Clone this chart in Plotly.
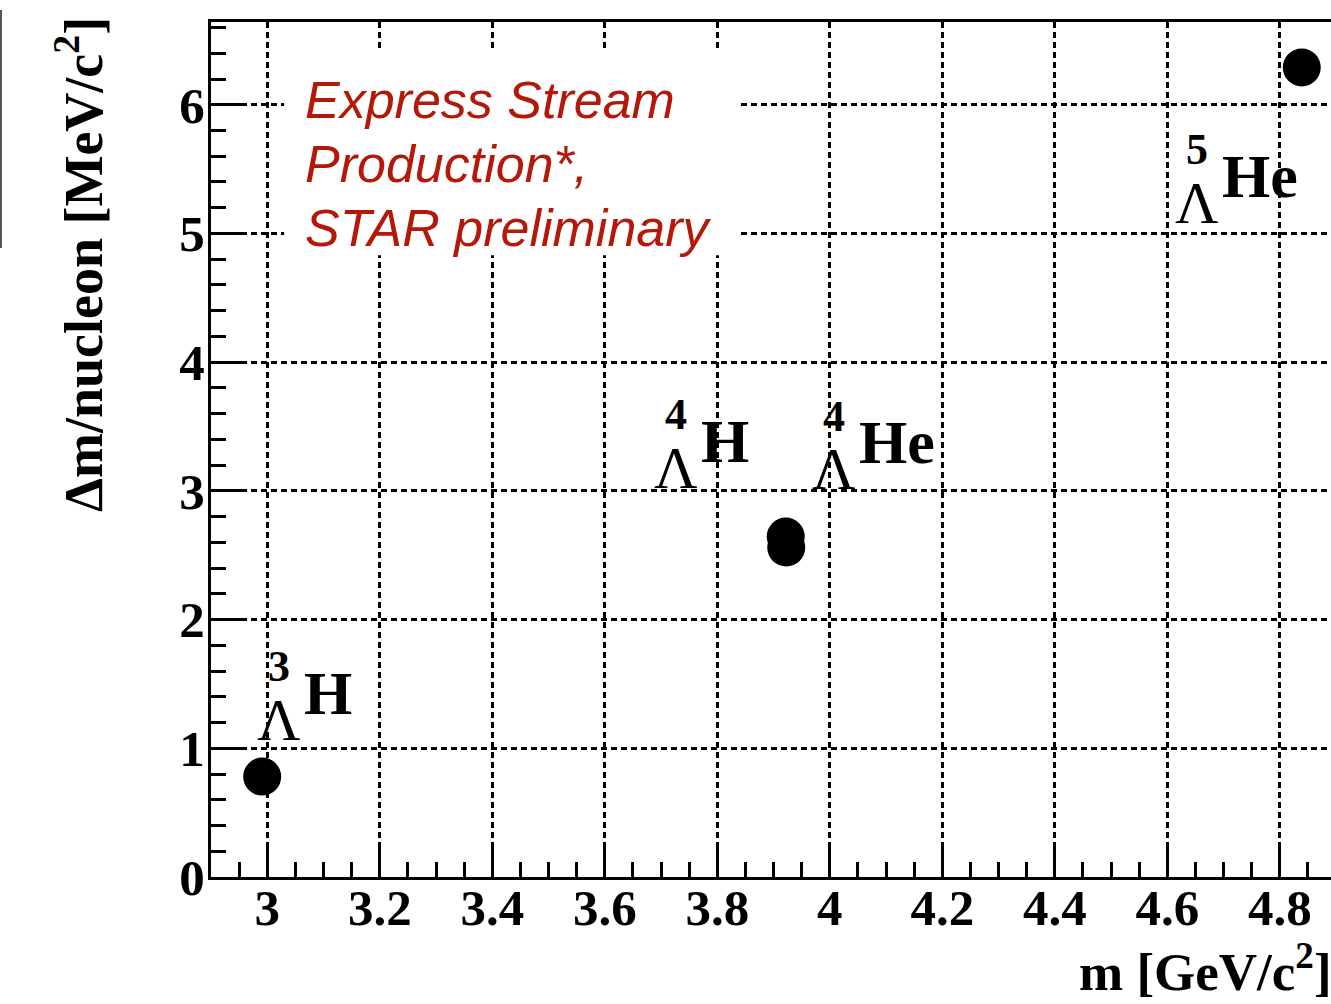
import plotly.graph_objects as go

# Hypernuclei: mass [GeV/c^2] vs mass difference per nucleon [MeV/c^2]
mass_number = ["3", "4", "4", "5"]
element = ["H", "H", "He", "He"]
mass = [2.991, 3.9226, 3.9217, 4.839]
dm_per_nucleon = [0.78, 2.56, 2.645, 6.29]

# Label anchors (centre of the Lambda glyph) in data coordinates
label_x = [3.021, 3.727, 4.008, 4.653]
label_y = [1.22, 3.178, 3.17, 5.237]

x_ticks = [3.0, 3.2, 3.4, 3.6, 3.8, 4.0, 4.2, 4.4, 4.6, 4.8]
x_tick_text = ["3", "3.2", "3.4", "3.6", "3.8", "4", "4.2", "4.4", "4.6", "4.8"]
y_ticks = [0, 1, 2, 3, 4, 5, 6]
y_tick_text = ["0", "1", "2", "3", "4", "5", "6"]

preliminary_lines = ["Express Stream", "Production*,", "STAR preliminary"]
preliminary_y = [6.04, 5.54, 5.04]

SERIF = "Liberation Serif"
RED = "rgb(180,24,8)"

fig = go.Figure()
fig.add_trace(go.Scatter(
    x=mass, y=dm_per_nucleon, mode="markers",
    marker=dict(size=38, color="black", line=dict(width=0)),
    showlegend=False, hoverinfo="skip",
))

axis_common = dict(
    showline=True, linecolor="black", linewidth=3,
    ticks="inside", ticklen=30, tickwidth=3, tickcolor="black",
    showgrid=True, gridcolor="black", gridwidth=3, griddash="6px,4px",
    zeroline=False,
    tickfont=dict(family=SERIF, size=51, color="black", weight="bold"),
)

fig.update_xaxes(
    **axis_common, range=[2.9, 4.891], mirror=True,
    tickvals=x_ticks, ticktext=x_tick_text, ticklabelstandoff=-16,
    minor=dict(dtick=0.05, tick0=0, ticks="inside", ticklen=15,
               tickwidth=3, tickcolor="black", showgrid=False),
)
fig.update_yaxes(
    **axis_common, range=[0, 6.643],
    tickvals=y_ticks, ticktext=y_tick_text, ticklabelstandoff=-7,
    minor=dict(dtick=0.2, tick0=0, ticks="inside", ticklen=15,
               tickwidth=3, tickcolor="black", showgrid=False),
)

annotations = []
# Hypernucleus labels: mass number above Lambda, element symbol to the right
for a, el, lx, ly in zip(mass_number, element, label_x, label_y):
    annotations.append(dict(x=lx, y=ly, text="\u039b", showarrow=False,
                            xanchor="center", yanchor="middle",
                            font=dict(family=SERIF, size=60, color="black")))
    annotations.append(dict(x=lx, y=ly, text=a, showarrow=False,
                            xanchor="center", yanchor="middle", yshift=53,
                            font=dict(family=SERIF, size=44, color="black", weight="bold")))
    annotations.append(dict(x=lx, y=ly, text=el, showarrow=False,
                            xanchor="left", yanchor="middle", xshift=23, yshift=27,
                            font=dict(family=SERIF, size=62, color="black", weight="bold")))

for line, ty in zip(preliminary_lines, preliminary_y):
    annotations.append(dict(x=3.064, y=ty, text=line, showarrow=False,
                            xanchor="left", yanchor="middle",
                            font=dict(family="Liberation Sans", size=52, color=RED,
                                      style="italic")))

annotations.append(dict(
    xref="paper", yref="paper", x=-0.117, y=0.717,
    text="\u0394m/nucleon [MeV/c<sup>2</sup>]", textangle=-90, showarrow=False,
    xanchor="center", yanchor="middle",
    font=dict(family=SERIF, size=54, color="black", weight="bold")))
annotations.append(dict(
    xref="paper", yref="paper", x=1.0027, y=-0.1065,
    text="m [GeV/c<sup>2</sup>]", showarrow=False,
    xanchor="right", yanchor="middle",
    font=dict(family=SERIF, size=53, color="black", weight="bold")))

shapes = [
    # white backing behind the preliminary text
    dict(type="rect", xref="x", yref="y", x0=3.03, x1=3.835, y0=4.83, y1=6.43,
         fillcolor="white", line=dict(width=0), layer="between"),
    # edge of neighbouring panel
    dict(type="line", xref="paper", yref="paper", x0=-0.1875, x1=-0.1875,
         y0=0.7357, y1=1.014, line=dict(color="#555555", width=2)),
]

fig.update_layout(
    width=1331, height=1004,
    margin=dict(l=211, r=0, t=22, b=127),
    paper_bgcolor="white", plot_bgcolor="white",
    annotations=annotations, shapes=shapes,
    showlegend=False,
)

fig.write_html("out.html")
